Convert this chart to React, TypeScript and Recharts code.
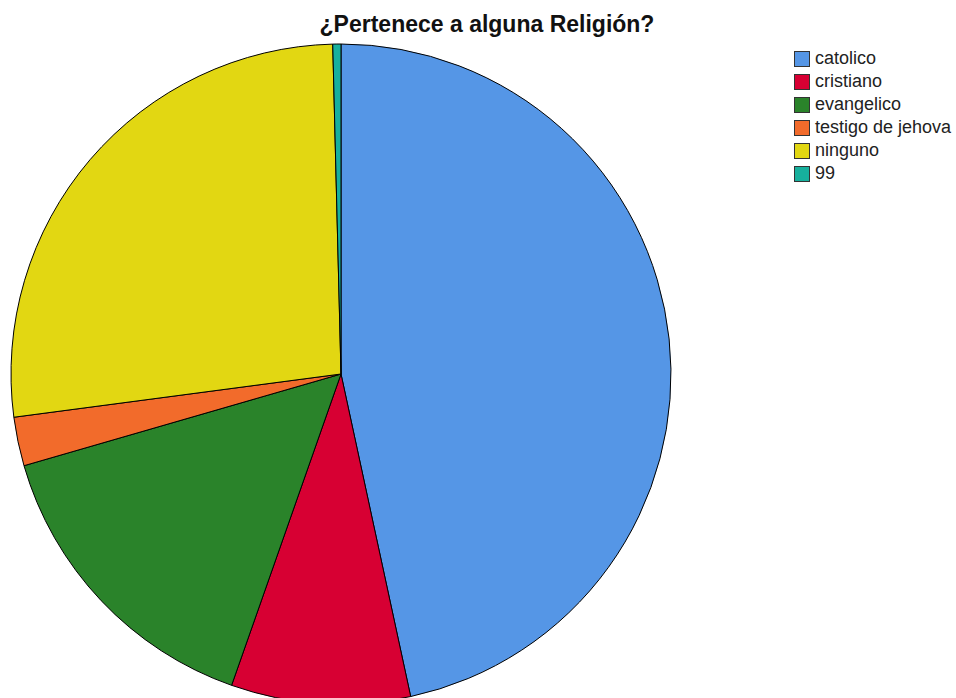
import { PieChart, Pie, Cell } from "recharts";

const CATEGORIES = ["catolico", "cristiano", "evangelico", "testigo de jehova", "ninguno", "99"];
const COUNTS = [117, 22, 38, 6, 67, 1];
const COLORS = ["#5596E6", "#D70033", "#2A832A", "#F26B2B", "#E2D712", "#17B09D"];

const TITLE = "¿Pertenece a alguna Religión?";

const data = CATEGORIES.map((name, i) => ({ name, value: COUNTS[i] }));

function LegendBox() {
  return (
    <div
      style={{
        position: "absolute",
        left: 794,
        top: 47,
        fontFamily: "'Liberation Sans', Arial, sans-serif",
        fontSize: 18,
        color: "#222",
      }}
    >
      {CATEGORIES.map((name, i) => (
        <div key={name} style={{ display: "flex", alignItems: "center", height: 23 }}>
          <span
            style={{
              width: 16,
              height: 16,
              background: COLORS[i],
              border: "1px solid #333",
              marginRight: 5,
              boxSizing: "border-box",
            }}
          />
          <span>{name}</span>
        </div>
      ))}
    </div>
  );
}

export default function App() {
  return (
    <div style={{ position: "absolute", left: 0, top: 0, width: 956, height: 698, background: "#fff", overflow: "hidden" }}>
      <PieChart width={956} height={698} margin={{ top: 0, right: 0, bottom: 0, left: 0 }}>
        <Pie
          data={data}
          dataKey="value"
          nameKey="name"
          cx={341}
          cy={374}
          outerRadius={330}
          startAngle={90}
          endAngle={-270}
          stroke="#000"
          strokeWidth={1}
          isAnimationActive={false}
        >
          {data.map((d, i) => (
            <Cell key={d.name} fill={COLORS[i]} />
          ))}
        </Pie>
      </PieChart>
      <div
        style={{
          position: "absolute",
          left: 0,
          top: 11,
          width: 974,
          textAlign: "center",
          fontFamily: "'Liberation Sans', Arial, sans-serif",
          fontWeight: 700,
          fontSize: 23,
          color: "#111",
        }}
      >
        {TITLE}
      </div>
      <LegendBox />
    </div>
  );
}
